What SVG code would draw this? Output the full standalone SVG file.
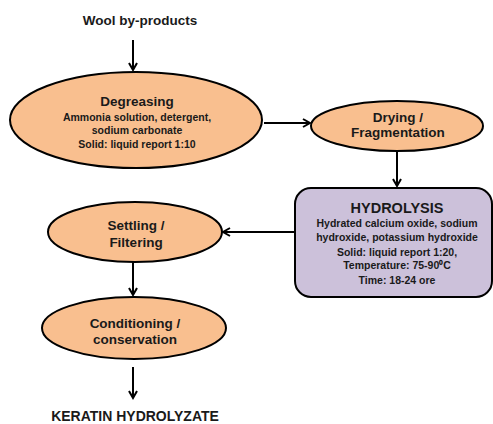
<svg xmlns="http://www.w3.org/2000/svg" width="493" height="424" viewBox="0 0 493 424">
<defs>
<style>
.el{fill:#F9BF8F;stroke:#000;stroke-width:2}
.box{fill:#CCC1DA;stroke:#000;stroke-width:2}
text{font-family:"Liberation Sans",Arial,sans-serif;font-weight:bold;fill:#1a1a1a;text-anchor:middle}
.t{font-size:13.5px}
.s{font-size:10.5px}
.c{stroke:#000;stroke-width:2;fill:none;marker-end:url(#ah)}
</style>
<marker id="ah" markerWidth="10" markerHeight="10" refX="8" refY="5" orient="auto" markerUnits="userSpaceOnUse">
<path d="M1,1 L8,5 L1,9" fill="none" stroke="#000" stroke-width="2"/>
</marker>
</defs>
<text class="t" x="140" y="25">Wool by-products</text>
<g id="connectors">
<line class="c" x1="133" y1="40" x2="133" y2="70"/>
<line class="c" x1="264" y1="123" x2="310" y2="123"/>
<line class="c" x1="397" y1="152" x2="397" y2="186"/>
<line class="c" x1="295" y1="232" x2="223" y2="232"/>
<line class="c" x1="133" y1="262" x2="133" y2="295"/>
<line class="c" x1="133" y1="367" x2="133" y2="398"/>
</g>
<g id="degreasing">
<ellipse class="el" cx="136" cy="120" rx="126" ry="48"/>
<text class="t" x="137" y="106">Degreasing</text>
<text class="s" x="137" y="121">Ammonia solution, detergent,</text>
<text class="s" x="137" y="134">sodium carbonate</text>
<text class="s" x="137" y="148">Solid: liquid report 1:10</text>
</g>
<g id="drying">
<ellipse class="el" cx="397" cy="126" rx="86" ry="25"/>
<text class="t" x="398" y="122">Drying /</text>
<text class="t" x="398" y="137">Fragmentation</text>
</g>
<g id="hydrolysis">
<rect class="box" x="295" y="188" width="197" height="109" rx="16" ry="16"/>
<text x="397" y="213" style="font-size:14.5px">HYDROLYSIS</text>
<text class="s" x="397" y="227">Hydrated calcium oxide, sodium</text>
<text class="s" x="397" y="241">hydroxide, potassium hydroxide</text>
<text class="s" x="397" y="256">Solid: liquid report 1:20,</text>
<text class="s" x="397" y="269">Temperature: 75-90⁰C</text>
<text class="s" x="397" y="284">Time: 18-24 ore</text>
</g>
<g id="settling">
<ellipse class="el" cx="135" cy="232" rx="87" ry="30"/>
<text class="t" x="136" y="230">Settling /</text>
<text class="t" x="136" y="247">Filtering</text>
</g>
<g id="conditioning">
<ellipse class="el" cx="134" cy="328" rx="92" ry="31"/>
<text class="t" x="135" y="328">Conditioning /</text>
<text class="t" x="135" y="344">conservation</text>
</g>
<text x="135" y="421" style="font-size:14px">KERATIN HYDROLYZATE</text>
</svg>
